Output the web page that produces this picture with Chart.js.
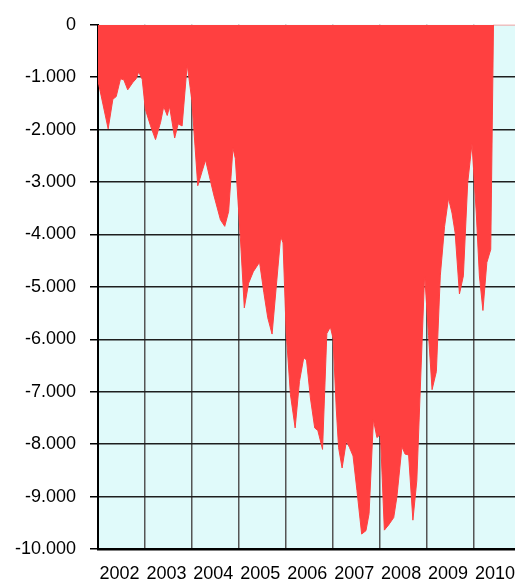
<!DOCTYPE html>
<html>
<head>
<meta charset="utf-8">
<script src="https://cdn.jsdelivr.net/npm/chart.js@4"></script>
<style>
  html, body { margin: 0; padding: 0; background: #fff; overflow: hidden; }
  canvas { display: block; }
</style>
</head>
<body>
<canvas id="chart" width="515" height="581"></canvas>
<script>
// months since Jan 2002 for each vertex
const months = [0, 2.6, 3.8, 4.65, 5.75, 6.6, 7.6, 8.9, 9.75, 10.4,
  11.3, 12.1, 13.4, 14.7, 16.0, 16.8, 17.7, 18.3, 19.6, 20.5,
  21.5, 22.8, 24.0, 25.5, 26.6, 27.5, 29.6, 31.3, 32.4, 33.4,
  34.5, 35.1, 36.4, 37.4, 38.5, 39.7, 41.3, 42.4, 43.4, 44.5,
  46.7, 47.3, 48.1, 49.2, 50.4, 51.5, 52.6, 53.3, 54.3, 55.4,
  56.2, 57.4, 58.5, 59.4, 60.1, 60.9, 61.5, 62.4, 63.5, 64.3,
  65.2, 66.2, 67.4, 68.5, 69.3, 70.4, 71.3, 72.2, 73.2, 74.3,
  75.6, 76.4, 77.7, 78.5, 79.4, 80.5, 81.5, 83.5, 84.5, 85.4,
  86.5, 87.5, 88.6, 89.6, 90.5, 91.3, 92.4, 93.4, 94.5, 95.6,
  96.7, 97.5, 98.4, 99.4, 100.4, 101.1, 106.6];

const values = [-1070, -1985, -1420, -1370, -1030, -1050, -1240, -1100, -1030, -900,
  -1040, -1610, -1920, -2190, -1860, -1560, -1730, -1560, -2160, -1890,
  -1930, -760, -1450, -3070, -2800, -2580, -3245, -3720, -3845, -3560,
  -2350, -2550, -4065, -5400, -4930, -4710, -4530, -5110, -5590, -5900,
  -4040, -4160, -5860, -7057, -7690, -6805, -6350, -6395, -7120, -7690,
  -7740, -8100, -5890, -5765, -5985, -7310, -8065, -8455, -7940, -8065,
  -8225, -8885, -9715, -9650, -9325, -7530, -7875, -7815, -9640, -9540,
  -9400, -9010, -8050, -8190, -8205, -9450, -8695, -4760, -5925, -6960,
  -6615, -4790, -3845, -3310, -3590, -3970, -5135, -4790, -3025, -2270,
  -3590, -4790, -5450, -4535, -4285, 0, 0];

const years = ['2002', '2003', '2004', '2005', '2006', '2007', '2008', '2009', '2010'];
const yTickLabels = ['0', '-1.000', '-2.000', '-3.000', '-4.000', '-5.000',
  '-6.000', '-7.000', '-8.000', '-9.000', '-10.000'];

const font = { family: 'Liberation Sans, Arial, sans-serif', size: 18 };

// light cyan plot background
const plotBg = {
  id: 'plotBg',
  beforeDraw(chart) {
    const { ctx, chartArea: a } = chart;
    ctx.save();
    ctx.fillStyle = '#E0FAFA';
    ctx.fillRect(a.left, a.top, a.right - a.left, a.bottom - a.top);
    ctx.restore();
  }
};

new Chart(document.getElementById('chart'), {
  type: 'line',
  data: {
    datasets: [{
      data: months.map((m, i) => ({ x: m, y: values[i] })),
      fill: 'origin',
      backgroundColor: '#FF4040',
      borderColor: '#FF4040',
      borderWidth: 1,
      pointRadius: 0,
      tension: 0
    }]
  },
  options: {
    responsive: false,
    animation: false,
    events: [],
    layout: { padding: { top: 20, right: 0, left: 0, bottom: 0 } },
    plugins: { legend: { display: false }, tooltip: { enabled: false } },
    scales: {
      x: {
        type: 'linear',
        min: 0,
        max: 106.6,
        afterBuildTicks: scale => {
          scale.ticks = [];
          for (let v = 0; v <= 102; v += 6) scale.ticks.push({ value: v });
        },
        afterFit: scale => {
          scale.height = 32;
          scale.paddingLeft = 0;
          scale.paddingRight = 0;
        },
        grid: {
          color: c => (c.tick && c.tick.value % 12 === 0) ? '#555' : 'rgba(0,0,0,0)',
          lineWidth: 1.5,
          drawTicks: false
        },
        border: { display: true, color: '#000', width: 2.5 },
        ticks: {
          autoSkip: false,
          maxRotation: 0,
          padding: 14,
          labelOffset: -2,
          color: '#000',
          font,
          callback: v => (v % 12 === 6) ? years[(v - 6) / 12] : ''
        }
      },
      y: {
        min: -10000,
        max: 0,
        afterFit: scale => { scale.width = 98; },
        grid: {
          color: c => (c.tick && c.tick.value === 0) ? 'rgba(0,0,0,0)' : '#1e1e1e',
          lineWidth: 1.5,
          tickLength: 8,
          tickColor: '#000'
        },
        border: { display: true, color: '#000', width: 2 },
        ticks: {
          stepSize: 1000,
          padding: 14,
          color: '#000',
          font,
          callback: v => yTickLabels[Math.round(-v / 1000)]
        }
      }
    }
  },
  plugins: [plotBg]
});
</script>
</body>
</html>
